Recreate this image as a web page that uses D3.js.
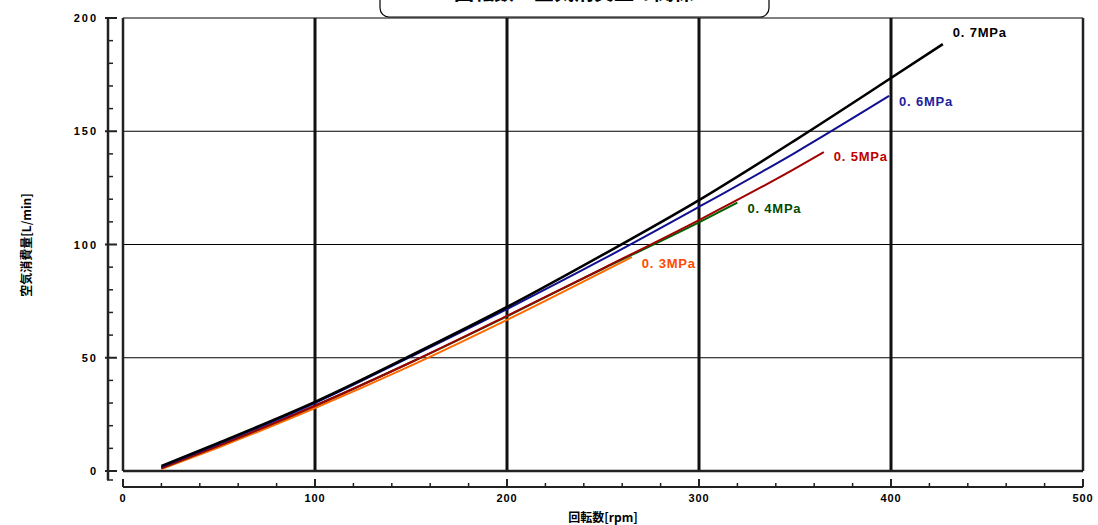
<!DOCTYPE html>
<html><head><meta charset="utf-8">
<script src="https://cdn.jsdelivr.net/npm/d3@7"></script>
<style>body{margin:0;background:#fff}svg{display:block}</style>
</head><body>
<svg id="c" width="1098" height="525"></svg>
<script>
const xTicks = [0,100,200,300,400,500];
const yTicks = [0,50,100,150,200];
const seriesNames = ["0. 3MPa","0. 4MPa","0. 5MPa","0. 6MPa","0. 7MPa"];
const rpm03 = [20,50,100,150,200,250,265];
const q03   = [0.8,10.5,27.8,46.5,66.7,88,94.5];
const rpm04 = [20,50,100,150,200,250,300,320];
const q04   = [1.2,11.2,28.8,48,68.3,89.3,109.8,118.5];
const rpm05 = [20,50,100,150,200,250,300,350,365];
const q05   = [1.2,11.2,28.8,48,68.5,89.5,110.8,133.5,140.8];
const rpm06 = [20,50,100,150,200,250,300,350,399];
const q06   = [1.8,12,30,50.5,71.5,93.5,116.6,140.5,165.6];
const rpm07 = [20,50,100,150,200,250,300,350,400,427];
const q07   = [2.2,12.5,30.5,51,72.4,95.5,119.6,146,173.5,188.5];
const lineColors  = ["#ff6a00","#006000","#a00000","#101090","#000000"];
const labelColors = ["#ff4a00","#004a00","#c00000","#2020a0","#000000"];

const svg = d3.select("#c");
const L = 123, R = 1083, T = 18, B = 471;
const x = d3.scaleLinear().domain([0,500]).range([L,R]);
const y = d3.scaleLinear().domain([0,200]).range([B,T]);

// title box (cut off at top)
svg.append("rect").attr("x",380).attr("y",-20).attr("width",389).attr("height",37)
  .attr("rx",9).attr("fill","#fff").attr("stroke","#000").attr("stroke-width",1.2);
svg.append("text").attr("x",574).attr("y",0).attr("text-anchor","middle")
  .attr("font-family","Noto Sans CJK JP").attr("font-size",20).attr("font-weight","bold")
  .text("回転数－空気消費量の関係");

// horizontal grid
svg.append("g").selectAll("line").data([50,100,150]).join("line")
  .attr("x1",L).attr("x2",R).attr("y1",d=>y(d)).attr("y2",d=>y(d))
  .attr("stroke","#000").attr("stroke-width",1);
svg.append("line").attr("x1",L).attr("x2",R).attr("y1",T).attr("y2",T).attr("stroke","#000").attr("stroke-width",1.2);
// vertical grid (thick)
svg.append("g").selectAll("line").data([100,200,300,400]).join("line")
  .attr("x1",d=>x(d)).attr("x2",d=>x(d)).attr("y1",T).attr("y2",B)
  .attr("stroke","#111").attr("stroke-width",3);
// frame
svg.append("line").attr("x1",L).attr("x2",L).attr("y1",T).attr("y2",B).attr("stroke","#222").attr("stroke-width",2.5);
svg.append("line").attr("x1",R).attr("x2",R).attr("y1",T).attr("y2",B).attr("stroke","#222").attr("stroke-width",2.5);
svg.append("line").attr("x1",L).attr("x2",R).attr("y1",B).attr("y2",B).attr("stroke","#222").attr("stroke-width",2.5);

// y axis (separate, left)
const yAx = svg.append("g");
yAx.append("line").attr("x1",108).attr("x2",108).attr("y1",T).attr("y2",B+9).attr("stroke","#222").attr("stroke-width",2.5);
yAx.append("line").attr("x1",107).attr("x2",113).attr("y1",B+9).attr("y2",B+9).attr("stroke","#222").attr("stroke-width",1.5);
yAx.selectAll("line.mn").data(d3.range(0,201,10)).join("line").attr("class","mn")
  .attr("x1",d=>d%50===0?105:108).attr("x2",d=>d%50===0?117:113)
  .attr("y1",d=>y(d)).attr("y2",d=>y(d)).attr("stroke","#222").attr("stroke-width",d=>d%50===0?2:1.5);
yAx.selectAll("text").data(yTicks).join("text")
  .attr("x",98).attr("y",d=>y(d)+4).attr("text-anchor","end")
  .attr("font-family","Liberation Sans").attr("font-size",11).attr("font-weight","bold")
  .attr("letter-spacing",2).text(d=>d);

// x axis (separate, below)
const XA = 487;
const xAx = svg.append("g");
xAx.append("line").attr("x1",L).attr("x2",R).attr("y1",XA).attr("y2",XA).attr("stroke","#222").attr("stroke-width",2);
xAx.selectAll("line.t").data(d3.range(0,501,20)).join("line").attr("class","t")
  .attr("x1",d=>x(d)).attr("x2",d=>x(d)).attr("y1",XA)
  .attr("y2",d=>d%100===0?XA-8:XA-4).attr("stroke","#222").attr("stroke-width",d=>d%100===0?2:1.5);
xAx.selectAll("text").data(xTicks).join("text")
  .attr("x",d=>x(d)).attr("y",502).attr("text-anchor","middle")
  .attr("font-family","Liberation Sans").attr("font-size",11).attr("font-weight","bold")
  .attr("letter-spacing",0.8).text(d=>d);

// axis titles
svg.append("text").attr("transform","translate(31,245) rotate(-90)").attr("text-anchor","middle")
  .attr("font-family","Noto Sans CJK JP").attr("font-size",12).attr("font-weight","bold")
  .text("空気消費量[L/min]");
svg.append("text").attr("x",603).attr("y",522).attr("text-anchor","middle")
  .attr("font-family","Noto Sans CJK JP").attr("font-size",12).attr("font-weight","bold")
  .text("回転数[rpm]");

// series
const series = [
  {name:seriesNames[0], r:rpm03, q:q03},
  {name:seriesNames[1], r:rpm04, q:q04},
  {name:seriesNames[2], r:rpm05, q:q05},
  {name:seriesNames[3], r:rpm06, q:q06},
  {name:seriesNames[4], r:rpm07, q:q07},
];
const labelDy = [11,10,9,10,-7];
const line = d3.line().x(d=>x(d[0])).y(d=>y(d[1])).curve(d3.curveMonotoneX);
series.forEach((s,i)=>{
  const pts = s.r.map((v,j)=>[v,s.q[j]]);
  svg.append("path").datum(pts).attr("d",line).attr("fill","none")
    .attr("stroke",lineColors[i]).attr("stroke-width",i===4?2.6:2);
  const last = pts[pts.length-1];
  svg.append("text").attr("x",x(last[0])+10).attr("y",y(last[1])+labelDy[i])
    .attr("font-family","Liberation Sans").attr("font-size",13).attr("font-weight","bold")
    .attr("letter-spacing",0.8).attr("fill",labelColors[i]).text(s.name);
});
</script>
</body></html>
